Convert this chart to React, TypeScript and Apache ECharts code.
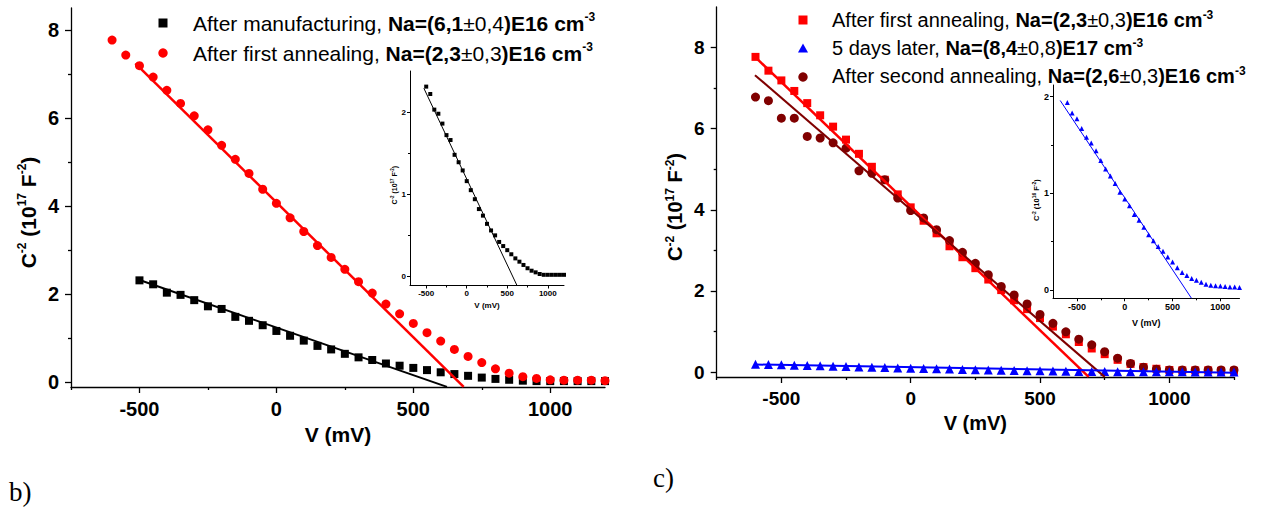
import React, { useEffect, useRef } from 'react';
import * as echarts from 'echarts';

const FONT = "'Liberation Sans', Arial, Helvetica, sans-serif";
const SERIF = "'Liberation Serif', 'Times New Roman', serif";

// Bias voltage (mV), measured every 50 mV
const VOLTAGE_MV = [
  -600, -550, -500, -450, -400, -350, -300, -250, -200, -150, -100, -50,
  0, 50, 100, 150, 200, 250, 300, 350, 400, 450, 500, 550, 600, 650, 700,
  750, 800, 850, 900, 950, 1000, 1050, 1100, 1150, 1200, 1250,
];

// Panel b) — after manufacturing (measured from -500 to 1200 mV), 1e17 F^-2
const MANUFACTURING_V = VOLTAGE_MV.slice(2, 37);
const AFTER_MANUFACTURING = [
  2.31, 2.22, 2.03, 1.98, 1.86, 1.72, 1.66, 1.48, 1.39, 1.29,
  1.16, 1.05, 0.94, 0.82, 0.74, 0.64, 0.56, 0.5, 0.42, 0.37,
  0.32, 0.27, 0.22, 0.18, 0.14, 0.1, 0.07, 0.05, 0.03, 0.02,
  0.02, 0.02, 0.02, 0.02, 0.02,
];

// After first annealing (-600 .. 1250 mV), 1e17 F^-2
const AFTER_FIRST_ANNEALING = [
  7.77, 7.43, 7.19, 6.93, 6.63, 6.33, 6.05, 5.73, 5.38, 5.06, 4.74, 4.38,
  4.06, 3.73, 3.42, 3.1, 2.83, 2.56, 2.28, 2.02, 1.77, 1.55, 1.33, 1.12,
  0.93, 0.74, 0.58, 0.44, 0.3, 0.2, 0.12, 0.08, 0.05, 0.04, 0.04, 0.04,
  0.03, 0.03,
];

// After second annealing (-600 .. 1250 mV), 1e17 F^-2
const AFTER_SECOND_ANNEALING = [
  6.78, 6.69, 6.26, 6.26, 5.81, 5.77, 5.65, 5.52, 4.96, 4.9, 4.74, 4.29,
  3.98, 3.8, 3.51, 3.24, 2.95, 2.68, 2.4, 2.11, 1.9, 1.68, 1.42, 1.2,
  0.99, 0.81, 0.67, 0.5, 0.34, 0.21, 0.12, 0.07, 0.05, 0.05, 0.05, 0.05,
  0.05, 0.05,
];

// 5 days later (-600 .. 1250 mV), 1e16 F^-2 (inset units)
const FIVE_DAYS_LATER_1E16 = [
  1.94, 1.83, 1.77, 1.67, 1.58, 1.52, 1.44, 1.34, 1.25, 1.18, 1.1, 1.01,
  0.94, 0.87, 0.78, 0.72, 0.65, 0.57, 0.51, 0.45, 0.4, 0.34, 0.29, 0.23,
  0.18, 0.15, 0.12, 0.1, 0.08, 0.06, 0.05, 0.045, 0.04, 0.035, 0.03, 0.03,
  0.025, 0.025,
];

// Linear fits: [V (mV), C^-2] end points
const FIT_MANUFACTURING = [[-505, 2.33], [623, -0.11]];
const FIT_FIRST_ANNEALING_B = [[-515, 7.24], [684, -0.11]];
const FIT_MANUFACTURING_INSET = [[-529, 2.29], [620, -0.11]];
const FIT_FIRST_ANNEALING_C = [[-605, 7.79], [688, -0.12]];
const FIT_SECOND_ANNEALING = [[-602, 7.32], [750, -0.12]];
const FIT_FIVE_DAYS = [[-600, 0.185], [1250, -0.02]];
const FIT_FIVE_DAYS_INSET = [[-675, 1.96], [698, -0.086]];

// Axis ticks
const MAIN_X_MAJOR = [-500, 0, 500, 1000];
const MAIN_X_MINOR = [-750, -250, 250, 750, 1250];
const MAIN_Y_MAJOR = [0, 2, 4, 6, 8];
const MAIN_Y_MINOR = [1, 3, 5, 7];
const INSET_X_MAJOR = [-500, 0, 500, 1000];
const INSET_X_MINOR = [-250, 250, 750];
const INSET_Y_MAJOR = [0, 1, 2];
const INSET_Y_MINOR = [0.5, 1.5];

const pairs = (xs: number[], ys: number[]) => xs.map((x, i) => [x, ys[i]]);
const upTo = (data: number[][], maxX: number) => data.filter((d) => d[0] <= maxX);

const RED = '#ff0000';
const DARK_RED = '#800000';
const BLUE = '#0000ff';
const BLACK = '#000000';

function yName(exp: string) {
  return `{b|C}{s|-2}{b| (10}{s|${exp}}{b| F}{s|-2}{b|)}`;
}

function nameRich(size: number, supSize: number, lh: number) {
  return {
    b: { fontSize: size, fontWeight: 'bold', fontFamily: FONT, color: '#000', lineHeight: lh },
    s: {
      fontSize: supSize,
      fontWeight: 'bold',
      fontFamily: FONT,
      color: '#000',
      lineHeight: supSize + 1,
      verticalAlign: 'top',
    },
  };
}

type AxisStyle = {
  lw: number;
  tick: number;
  minorTick: number;
  font: number;
  margin: number;
  name?: string;
  nameGap?: number;
  nameTextStyle?: any;
};

function axisPair(
  dim: 'x' | 'y',
  gridIndex: number,
  min: number,
  max: number,
  majors: number[],
  minors: number[],
  st: AxisStyle
) {
  const position = dim === 'x' ? 'bottom' : 'left';
  const major: any = {
    type: 'value',
    gridIndex,
    min,
    max,
    position,
    axisLine: { show: true, onZero: false, lineStyle: { color: BLACK, width: st.lw } },
    axisTick: {
      show: true,
      inside: false,
      length: st.tick,
      customValues: majors,
      lineStyle: { color: BLACK, width: st.lw },
    },
    axisLabel: {
      show: true,
      customValues: majors,
      formatter: (v: number) => String(v),
      margin: st.margin,
      fontSize: st.font,
      fontWeight: 'bold',
      fontFamily: FONT,
      color: BLACK,
    },
    splitLine: { show: false },
  };
  if (st.name) {
    major.name = st.name;
    major.nameLocation = 'middle';
    major.nameGap = st.nameGap;
    major.nameTextStyle = st.nameTextStyle;
  }
  const minor: any = {
    type: 'value',
    gridIndex,
    min,
    max,
    position,
    axisLine: { show: false, onZero: false },
    axisTick: {
      show: true,
      inside: false,
      length: st.minorTick,
      customValues: minors,
      lineStyle: { color: BLACK, width: st.lw },
    },
    axisLabel: { show: false },
    splitLine: { show: false },
  };
  return [major, minor];
}

function scatter(name: string, xi: number, data: number[][], symbol: string, size: number, color: string, z: number) {
  return {
    type: 'scatter',
    name,
    xAxisIndex: xi,
    yAxisIndex: xi,
    data,
    symbol,
    symbolSize: size,
    itemStyle: { color, opacity: 1 },
    z,
    silent: true,
  };
}

function fit(name: string, xi: number, data: number[][], color: string, width: number) {
  return {
    type: 'line',
    name,
    xAxisIndex: xi,
    yAxisIndex: xi,
    data,
    symbol: 'none',
    showSymbol: false,
    lineStyle: { color, width },
    z: 10,
    silent: true,
  };
}

function legendText(label: string, na: string, err: string, exp: string) {
  return `{n|${label}}{b|Na=(${na}}{n|±${err}}{b|)E${exp} cm}{s|-3}`;
}

function legendRich(size: number) {
  return {
    n: { fontSize: size, fontFamily: FONT, fill: '#000', lineHeight: size + 3 },
    b: { fontSize: size, fontFamily: FONT, fontWeight: 'bold', fill: '#000', lineHeight: size + 3 },
    s: { fontSize: 12, fontFamily: FONT, fontWeight: 'bold', fill: '#000', lineHeight: 13, verticalAlign: 'top' },
  };
}

export default function App() {
  const ref = useRef<HTMLDivElement>(null);

  useEffect(() => {
    if (!ref.current) return;
    const chart = echarts.init(ref.current, undefined, { renderer: 'svg' });

    const firstAnnealing = pairs(VOLTAGE_MV, AFTER_FIRST_ANNEALING);
    const secondAnnealing = pairs(VOLTAGE_MV, AFTER_SECOND_ANNEALING);
    const fiveDays16 = pairs(VOLTAGE_MV, FIVE_DAYS_LATER_1E16);
    const fiveDays17 = pairs(VOLTAGE_MV, FIVE_DAYS_LATER_1E16.map((v) => v / 10));
    const manufacturing = pairs(MANUFACTURING_V, AFTER_MANUFACTURING);

    const mainB: AxisStyle = { lw: 1.3, tick: 6, minorTick: 3, font: 20, margin: 12 };
    const mainC: AxisStyle = { lw: 1.3, tick: 6, minorTick: 3, font: 19, margin: 12 };
    const inset: AxisStyle = { lw: 1, tick: 3, minorTick: 2, font: 8, margin: 4 };
    const insetC: AxisStyle = { lw: 1, tick: 3, minorTick: 2, font: 9, margin: 4 };

    const xB = axisPair('x', 0, -750, 1200, MAIN_X_MAJOR, MAIN_X_MINOR, {
      ...mainB,
      name: 'V (mV)',
      nameGap: 36,
      nameTextStyle: { fontSize: 21, fontWeight: 'bold', fontFamily: FONT, color: BLACK },
    });
    const yB = axisPair('y', 0, -0.114, 8.5, MAIN_Y_MAJOR, MAIN_Y_MINOR, {
      ...mainB,
      name: yName('17'),
      nameGap: 31,
      nameTextStyle: { padding: [0, 30, 0, 0], rich: nameRich(21, 12, 24) },
    });
    const xBi = axisPair('x', 1, -700, 1200, INSET_X_MAJOR, INSET_X_MINOR, {
      ...inset,
      name: 'V (mV)',
      nameGap: 16,
      nameTextStyle: { fontSize: 8, fontWeight: 'bold', fontFamily: FONT, color: BLACK },
    });
    const yBi = axisPair('y', 1, -0.11, 2.5, INSET_Y_MAJOR, INSET_Y_MINOR, {
      ...inset,
      name: yName('17'),
      nameGap: 9,
      nameTextStyle: { padding: [0, 14, 0, 0], rich: nameRich(7, 4.5, 8) },
    });
    const xC = axisPair('x', 2, -750, 1250, MAIN_X_MAJOR, MAIN_X_MINOR, {
      ...mainC,
      name: 'V (mV)',
      nameGap: 34,
      nameTextStyle: { fontSize: 20, fontWeight: 'bold', fontFamily: FONT, color: BLACK },
    });
    const yC = axisPair('y', 2, -0.123, 9, MAIN_Y_MAJOR, MAIN_Y_MINOR, {
      ...mainC,
      name: yName('17'),
      nameGap: 30,
      nameTextStyle: { padding: [0, 30, 0, 0], rich: nameRich(20, 12, 23) },
    });
    const xCi = axisPair('x', 3, -750, 1200, INSET_X_MAJOR, INSET_X_MINOR, {
      ...insetC,
      name: 'V (mV)',
      nameGap: 20,
      nameTextStyle: { fontSize: 9, fontWeight: 'bold', fontFamily: FONT, color: BLACK },
    });
    const yCi = axisPair('y', 3, -0.086, 2.12, INSET_Y_MAJOR, INSET_Y_MINOR, {
      ...insetC,
      name: yName('16'),
      nameGap: 10,
      nameTextStyle: { padding: [0, 17, 0, 0], rich: nameRich(7.5, 5, 9) },
    });

    const option: any = {
      animation: false,
      backgroundColor: '#ffffff',
      textStyle: { fontFamily: FONT },
      grid: [
        { left: 71, top: 8, width: 534, height: 379 },
        { left: 410, top: 71, width: 154, height: 214.5 },
        { left: 716.7, top: 7, width: 517.3, height: 370 },
        { left: 1053, top: 85, width: 186.5, height: 213.3 },
      ],
      xAxis: [...xB, ...xBi, ...xC, ...xCi],
      yAxis: [...yB, ...yBi, ...yC, ...yCi],
      series: [
        // panel b
        scatter('After manufacturing', 0, manufacturing, 'rect', 8, BLACK, 2),
        scatter('After first annealing', 0, upTo(firstAnnealing, 1200), 'circle', 9, RED, 3),
        fit('fit manufacturing', 0, FIT_MANUFACTURING, BLACK, 2),
        fit('fit first annealing', 0, FIT_FIRST_ANNEALING_B, RED, 2.5),
        // panel b inset
        scatter('After manufacturing (inset)', 2, manufacturing, 'rect', 4, BLACK, 2),
        fit('fit manufacturing (inset)', 2, FIT_MANUFACTURING_INSET, BLACK, 1),
        // panel c
        scatter('After first annealing (c)', 4, firstAnnealing, 'rect', 8, RED, 2),
        scatter('After second annealing', 4, secondAnnealing, 'circle', 9, DARK_RED, 3),
        scatter('5 days later', 4, fiveDays17, 'triangle', 9, BLUE, 4),
        fit('fit first annealing (c)', 4, FIT_FIRST_ANNEALING_C, RED, 2.5),
        fit('fit second annealing', 4, FIT_SECOND_ANNEALING, DARK_RED, 2),
        fit('fit 5 days', 4, FIT_FIVE_DAYS, BLUE, 2),
        // panel c inset
        scatter('5 days later (inset)', 6, upTo(fiveDays16, 1200), 'triangle', 5, BLUE, 2),
        fit('fit 5 days (inset)', 6, FIT_FIVE_DAYS_INSET, BLUE, 1),
      ],
      graphic: [
        // legend b
        { type: 'rect', shape: { x: 158.5, y: 18.5, width: 9, height: 9 }, style: { fill: BLACK } },
        {
          type: 'text',
          x: 193,
          y: 23,
          style: {
            text: legendText('After manufacturing, ', '6,1', '0,4', '16'),
            rich: legendRich(21),
            verticalAlign: 'middle',
            align: 'left',
          },
        },
        { type: 'circle', shape: { cx: 163, cy: 53, r: 4.7 }, style: { fill: RED } },
        {
          type: 'text',
          x: 193,
          y: 53,
          style: {
            text: legendText('After first annealing, ', '2,3', '0,3', '16'),
            rich: legendRich(21),
            verticalAlign: 'middle',
            align: 'left',
          },
        },
        // legend c
        { type: 'rect', shape: { x: 798.5, y: 15.5, width: 9, height: 9 }, style: { fill: RED } },
        {
          type: 'text',
          x: 832,
          y: 20,
          style: {
            text: legendText('After first annealing, ', '2,3', '0,3', '16'),
            rich: legendRich(20),
            verticalAlign: 'middle',
            align: 'left',
          },
        },
        {
          type: 'polygon',
          shape: { points: [[798, 52.5], [808, 52.5], [803, 43.5]] },
          style: { fill: BLUE },
        },
        {
          type: 'text',
          x: 832,
          y: 48,
          style: {
            text: legendText('5 days later, ', '8,4', '0,8', '17'),
            rich: legendRich(20),
            verticalAlign: 'middle',
            align: 'left',
          },
        },
        { type: 'circle', shape: { cx: 803, cy: 77, r: 4.7 }, style: { fill: DARK_RED } },
        {
          type: 'text',
          x: 832,
          y: 76,
          style: {
            text: legendText('After second annealing, ', '2,6', '0,3', '16'),
            rich: legendRich(20),
            verticalAlign: 'middle',
            align: 'left',
          },
        },
        // panel letters
        {
          type: 'text',
          x: 9,
          y: 492,
          style: { text: 'b)', font: `27px ${SERIF}`, fill: '#000', verticalAlign: 'middle' },
        },
        {
          type: 'text',
          x: 653,
          y: 478,
          style: { text: 'c)', font: `27px ${SERIF}`, fill: '#000', verticalAlign: 'middle' },
        },
      ],
    };

    chart.setOption(option);
    return () => chart.dispose();
  }, []);

  return (
    <div
      ref={ref}
      style={{ position: 'fixed', left: 0, top: 0, width: 1264, height: 510, background: '#fff' }}
    />
  );
}
